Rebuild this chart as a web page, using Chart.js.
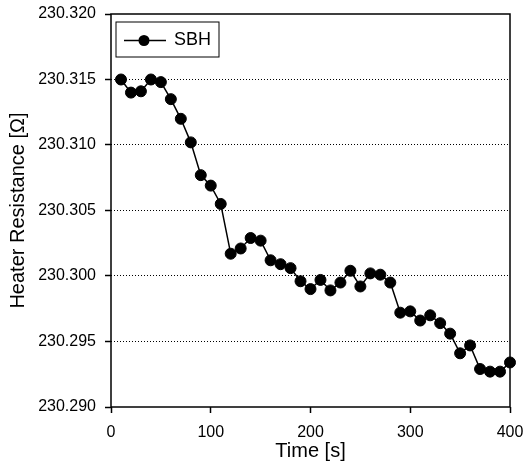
<!DOCTYPE html>
<html>
<head>
<meta charset="utf-8">
<script src="https://cdn.jsdelivr.net/npm/chart.js@4/dist/chart.umd.min.js"></script>
<style>
  html, body { margin: 0; padding: 0; background: #fff; }
  #wrap { width: 524px; height: 473px; }
</style>
</head>
<body>
<div id="wrap"><canvas id="chart" width="524" height="473"></canvas></div>
<script>
const times = [10, 20, 30, 40, 50, 60, 70, 80, 90, 100,
  110, 120, 130, 140, 150, 160, 170, 180, 190, 200,
  210, 220, 230, 240, 250, 260, 270, 280, 290, 300,
  310, 320, 330, 340, 350, 360, 370, 380, 390, 400];
const resistance = [230.3150, 230.3140, 230.3141, 230.3150, 230.3148, 230.3135, 230.3120, 230.3102, 230.3077, 230.3069,
  230.3055, 230.3017, 230.3021, 230.3029, 230.3027, 230.3012, 230.3009, 230.3006, 230.2996, 230.2990,
  230.2997, 230.2989, 230.2995, 230.3004, 230.2992, 230.3002, 230.3001, 230.2995, 230.2972, 230.2973,
  230.2966, 230.2970, 230.2964, 230.2956, 230.2941, 230.2947, 230.2929, 230.2927, 230.2927, 230.2934];
const seriesName = 'SBH';
const xTicks = [0, 100, 200, 300, 400];
const yTicks = [230.290, 230.295, 230.300, 230.305, 230.310, 230.315, 230.320];

const FONT = '"Liberation Sans", Arial, sans-serif';

// frame around the plot + legend box inside the top-left corner
const frameAndLegend = {
  id: 'frameAndLegend',
  afterDraw(chart) {
    const { ctx, chartArea: a } = chart;
    ctx.save();
    ctx.strokeStyle = '#000';
    ctx.lineWidth = 1.5;
    ctx.strokeRect(a.left, a.top, a.right - a.left, a.bottom - a.top);

    const bx = a.left + 5, by = a.top + 8, bw = 103, bh = 35;
    ctx.fillStyle = '#fff';
    ctx.fillRect(bx, by, bw, bh);
    ctx.lineWidth = 1;
    ctx.strokeRect(bx, by, bw, bh);
    const cy = by + bh / 2 + 1;
    ctx.beginPath();
    ctx.moveTo(bx + 8, cy);
    ctx.lineTo(bx + 50, cy);
    ctx.lineWidth = 1.5;
    ctx.stroke();
    ctx.beginPath();
    ctx.arc(bx + 28, cy, 5.5, 0, Math.PI * 2);
    ctx.fillStyle = '#000';
    ctx.fill();
    ctx.font = '18px ' + FONT;
    ctx.textBaseline = 'middle';
    ctx.fillText(seriesName, bx + 58, cy);
    ctx.restore();
  }
};

new Chart(document.getElementById('chart'), {
  type: 'line',
  data: {
    datasets: [{
      label: seriesName,
      data: times.map((t, i) => ({ x: t, y: resistance[i] })),
      borderColor: '#000',
      backgroundColor: '#000',
      borderWidth: 1.5,
      pointRadius: 5.5,
      pointBorderWidth: 1,
      tension: 0,
      clip: false
    }]
  },
  options: {
    responsive: false,
    animation: false,
    layout: { padding: { top: 14, right: 14, left: 0, bottom: 0 } },
    plugins: {
      legend: { display: false },
      tooltip: { enabled: false }
    },
    scales: {
      x: {
        type: 'linear',
        min: 0,
        max: 400,
        afterBuildTicks: axis => { axis.ticks = xTicks.map(v => ({ value: v })); },
        afterFit: axis => {
          axis.height = 66;
          axis.paddingLeft = 0;
          axis.paddingRight = 0;
        },
        border: { display: false },
        grid: {
          drawOnChartArea: false,
          tickLength: 6,
          tickColor: '#000',
          tickWidth: 1.5
        },
        ticks: {
          color: '#000',
          padding: 10,
          maxRotation: 0,
          font: { family: FONT, size: 16 }
        },
        title: {
          display: true,
          text: 'Time [s]',
          color: '#000',
          padding: { top: 0, bottom: 10 },
          font: { family: FONT, size: 20 }
        }
      },
      y: {
        type: 'linear',
        min: 230.290,
        max: 230.320,
        afterBuildTicks: axis => { axis.ticks = yTicks.map(v => ({ value: v })); },
        afterFit: axis => {
          axis.width = 111;
          axis.paddingTop = 0;
          axis.paddingBottom = 0;
        },
        border: { display: false, dash: [1, 2] },
        grid: {
          color: ctx => (ctx.index === 0 || ctx.index === yTicks.length - 1) ? 'rgba(0,0,0,0)' : '#000',
          lineWidth: 1,
          tickLength: 6,
          tickColor: '#000',
          tickWidth: 1.5,
          tickBorderDash: []
        },
        ticks: {
          color: '#000',
          padding: 9,
          font: { family: FONT, size: 16 },
          callback: v => v.toFixed(3)
        },
        title: {
          display: true,
          text: 'Heater Resistance [Ω]',
          color: '#000',
          padding: { top: 6, bottom: 0 },
          font: { family: FONT, size: 20 }
        }
      }
    }
  },
  plugins: [frameAndLegend]
});
</script>
</body>
</html>
